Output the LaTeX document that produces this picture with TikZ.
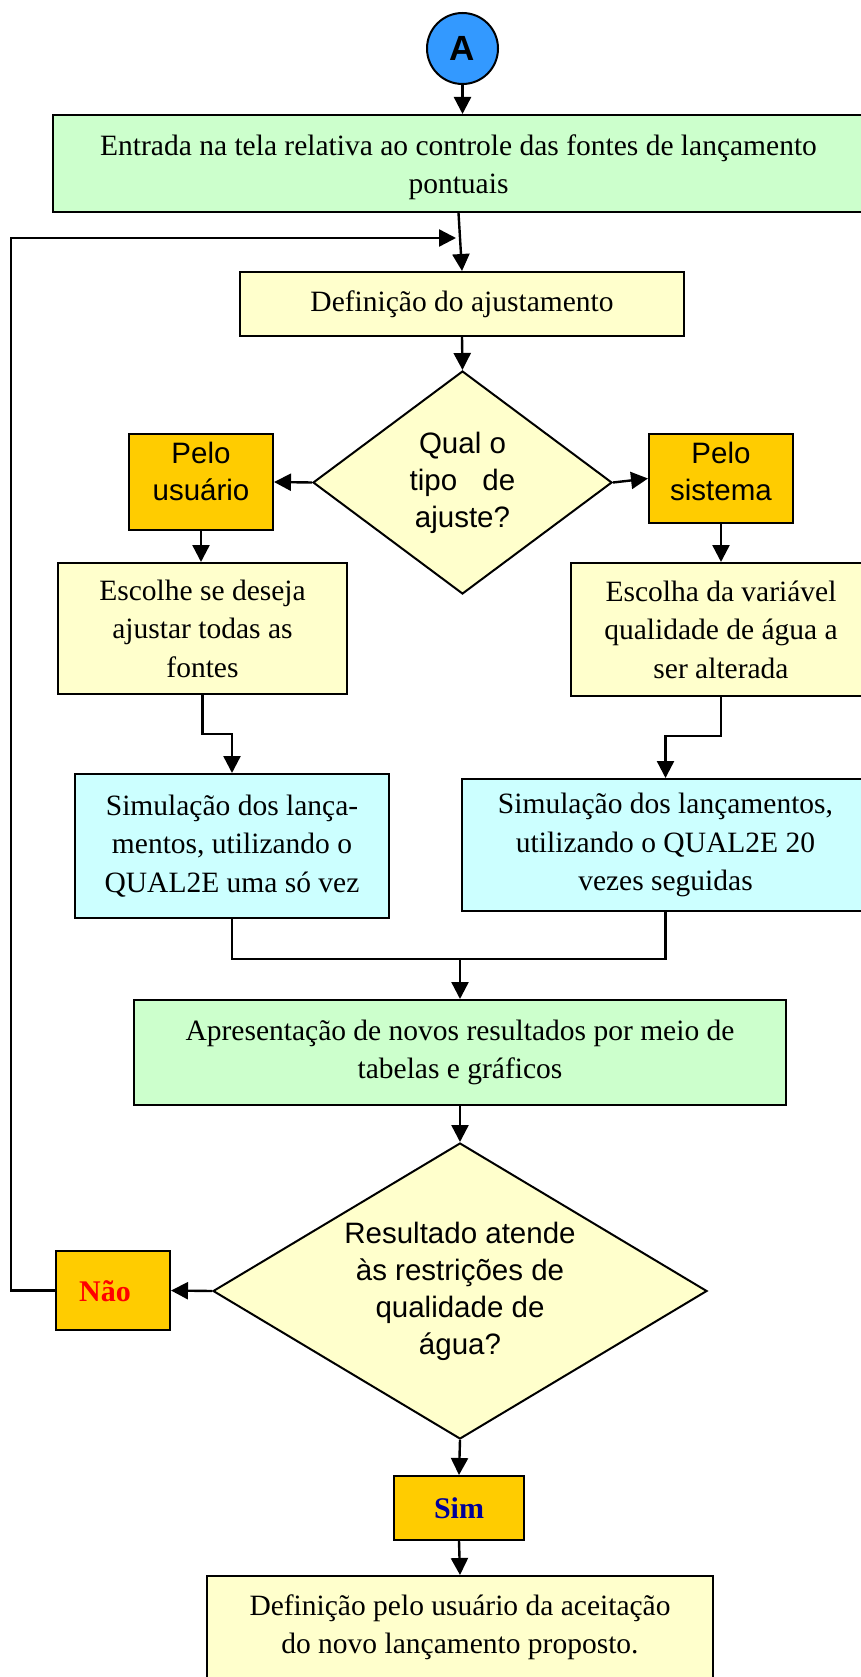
\documentclass[tikz,border=0pt]{standalone}
\usepackage{fontspec}
\setmainfont{Liberation Serif}
\newfontfamily\arialf{Liberation Sans}
\usetikzlibrary{shapes.geometric,arrows.meta}
\definecolor{cA}{HTML}{3399FF}
\definecolor{cgreen}{HTML}{CCFFCC}
\definecolor{cyel}{HTML}{FFFFCC}
\definecolor{corange}{HTML}{FFCC00}
\definecolor{ccyan}{HTML}{CCFFFF}
\definecolor{cnavy}{HTML}{000099}
\begin{document}
\begin{tikzpicture}[x=1pt,y=-1pt,
  box/.style={draw=black, line width=2pt, inner sep=0pt, align=center, font=\fontsize{29.5}{38.5}\selectfont},
  sanstext/.style={inner sep=0pt, align=center, font=\arialf\fontsize{29.5}{37}\selectfont},
  dia/.style={diamond, draw=black, line width=2pt, fill=cyel, inner sep=0pt, align=center, font=\arialf\fontsize{29.5}{37}\selectfont},
  line/.style={draw=black, line width=2.4pt},
  arr/.style={line, -{Triangle[length=17pt,width=17pt]}}
]
\useasboundingbox (0,0) rectangle (861,1677);

\node[circle, draw=black, line width=2pt, fill=cA, minimum size=71pt, inner sep=0pt,
      font=\arialf\bfseries\fontsize{35}{40}\selectfont] (A) at (462.5,48.5) {A};

\node[box, fill=cgreen, minimum width=811pt, minimum height=97pt] (b1) at (458.5,163.5) {};
\node[box, draw=none, fill=none] (b1t) at (458.5,167.5)
  {Entrada na tela relativa ao controle das fontes de lançamento\\pontuais};

\node[box, fill=cyel, minimum width=444pt, minimum height=64pt] (def) at (462,304)
  {Definição do ajustamento};

\node[dia, aspect=1.34, minimum width=299pt, minimum height=223pt] (d1) at (462.5,482.5)
  {Qual o\\tipo \hspace{17pt}de\\ajuste?};

\node[box, fill=corange, minimum width=144pt, minimum height=96pt] (pu) at (201,482) {};
\node[sanstext] (put) at (201,471) {Pelo\\usuário};

\node[box, fill=corange, minimum width=144pt, minimum height=89pt] (ps) at (721,478.5) {};
\node[sanstext] (pst) at (721,471) {Pelo\\sistema};

\node[box, fill=cyel, minimum width=289pt, minimum height=131pt] (esc1) at (202.5,628.5)
  {Escolhe se deseja\\ajustar todas as\\fontes};

\node[box, fill=cyel, minimum width=300pt, minimum height=133pt] (esc2) at (721,629.5)
  {Escolha da variável\\qualidade de água a\\ser alterada};

\node[box, fill=ccyan, minimum width=314pt, minimum height=144pt] (sim1) at (232,846)
  {Simulação dos lança-\\mentos, utilizando o\\QUAL2E uma só vez};

\node[box, fill=ccyan, minimum width=407pt, minimum height=132pt] (sim2) at (665.5,845)
  {Simulação dos lançamentos,\\utilizando o QUAL2E 20\\vezes seguidas};

\node[box, fill=cgreen, minimum width=652.5pt, minimum height=105pt] (apr) at (460,1052.5)
  {Apresentação de novos resultados por meio de\\tabelas e gráficos};

\node[dia, aspect=1.67, minimum width=494pt, minimum height=296pt] (d2) at (460,1291)
  {Resultado atende\\às restrições de\\qualidade de\\água?};

\node[box, fill=corange, minimum width=114pt, minimum height=79pt] (nao) at (113,1290.5) {};
\node[inner sep=0pt, font=\bfseries\fontsize{30}{37}\selectfont, text=red] (naot) at (105,1291) {Não};

\node[box, fill=corange, minimum width=130pt, minimum height=64pt, text=cnavy,
      font=\bfseries\fontsize{30}{37}\selectfont] (simb) at (459,1508) {Sim};

\node[box, fill=cyel, minimum width=506pt, minimum height=102pt] (final) at (460,1627)
  {Definição pelo usuário da aceitação\\do novo lançamento proposto.};

% connectors
\draw[arr] (A.south) -- (A.south |- b1.north);
\draw[arr] (b1.south) -- (def.north);
\coordinate (lc) at (11,238);
\coordinate (fb) at (456,238);
\draw[arr] (nao.west) -| (lc) -- (fb);
\draw[arr] (def.south) -- (d1.north);
\draw[arr] (d1.west) -- (pu.east);
\draw[arr] (d1.east) -- (ps.west);
\draw[arr] (pu.south) -- (pu.south |- esc1.north);
\draw[arr] (ps.south) -- (ps.south |- esc2.north);
\draw[arr] (esc1.south) -- ++(0,39) -| (sim1.north);
\draw[arr] (esc2.south) -- ++(0,39) -| (sim2.north);
\coordinate (m) at (460,959);
\draw[line] (sim1.south) |- (m);
\draw[line] (sim2.south) |- (m);
\draw[arr] (m) -- (apr.north);
\draw[arr] (apr.south) -- (d2.north);
\draw[arr] (d2.west) -- (nao.east);
\draw[arr] (d2.south) -- (simb.north);
\draw[arr] (simb.south) -- (final.north);
\end{tikzpicture}
\end{document}
